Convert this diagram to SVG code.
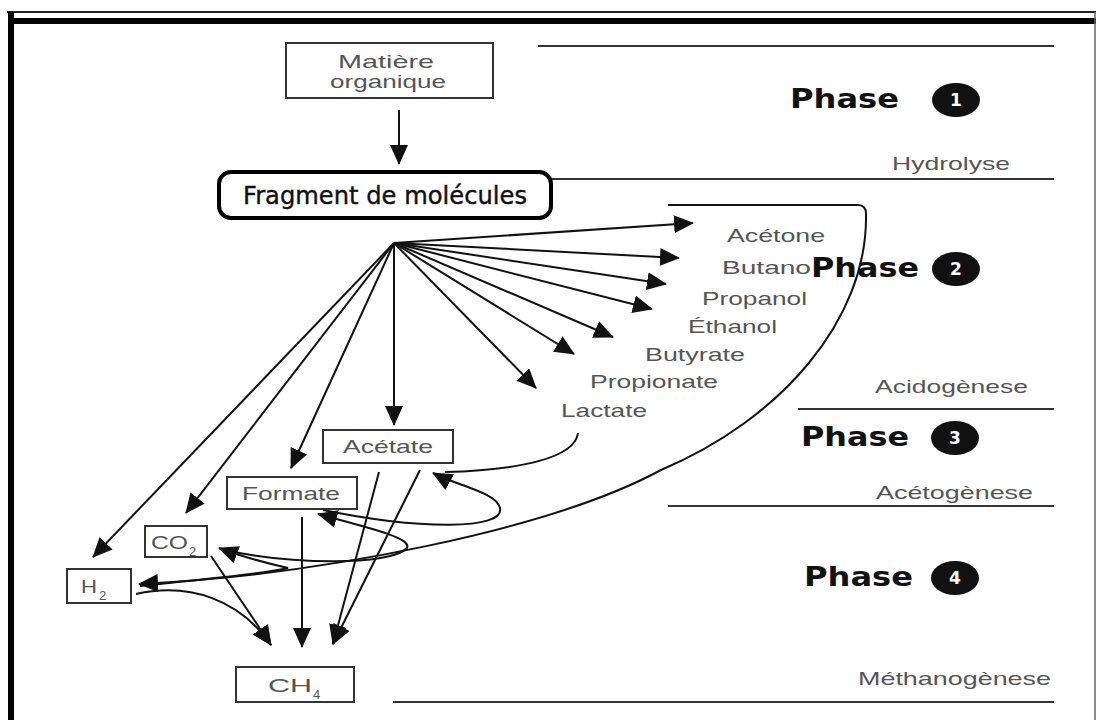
<svg xmlns="http://www.w3.org/2000/svg" width="1098" height="720" viewBox="0 0 1098 720">
<defs>
<marker id="ah" viewBox="0 0 20 18" refX="19" refY="9" markerWidth="20" markerHeight="18" markerUnits="userSpaceOnUse" orient="auto"><path d="M0,0 L20,9 L0,18 z" fill="#111"/></marker>
<style>
.lbl{font-family:"Liberation Sans",Arial,sans-serif;font-size:19px;fill:#555}
.sub{font-family:"Liberation Sans",Arial,sans-serif;font-size:13px;fill:#555}
.ph{font-family:"DejaVu Sans",Verdana,sans-serif;font-size:27px;font-weight:bold;fill:#111}
.num{font-family:"DejaVu Sans",Verdana,sans-serif;font-size:17px;font-weight:bold;fill:#fff;text-anchor:middle}
.box{fill:#fff;stroke:#333;stroke-width:2}
.sep{stroke:#333;stroke-width:2;fill:none}
.con{stroke:#111;stroke-width:2;fill:none}
.arr{stroke:#111;stroke-width:2;fill:none;marker-end:url(#ah)}
</style>
</defs>
<rect width="1098" height="720" fill="#fff"/>
<g id="frame">
<line x1="7" y1="12" x2="1096" y2="12" stroke="#222" stroke-width="2"/>
<line x1="8" y1="21" x2="1096" y2="21" stroke="#000" stroke-width="6"/>
<line x1="11" y1="12" x2="11" y2="720" stroke="#000" stroke-width="6"/>
<line x1="1095" y1="12" x2="1095" y2="720" stroke="#666" stroke-width="1.5"/>
</g>
<g id="phases">
<line class="sep" x1="538" y1="46" x2="1054" y2="46"/>
<line class="sep" x1="550" y1="179" x2="1054" y2="179"/>
<line class="sep" x1="798" y1="409" x2="1054" y2="409"/>
<line class="sep" x1="668" y1="506" x2="1054" y2="506"/>
<line class="sep" x1="393" y1="702" x2="1054" y2="702"/>
<text class="lbl" x="892" y="170" textLength="118" lengthAdjust="spacingAndGlyphs">Hydrolyse</text>
<text class="lbl" x="875" y="393" textLength="153" lengthAdjust="spacingAndGlyphs">Acidogènese</text>
<text class="lbl" x="876" y="499" textLength="157" lengthAdjust="spacingAndGlyphs">Acétogènese</text>
<text class="lbl" x="858" y="685" textLength="193" lengthAdjust="spacingAndGlyphs">Méthanogènese</text>
</g>
<g id="phase1">
<text class="ph" x="790" y="108" textLength="109" lengthAdjust="spacingAndGlyphs">Phase</text>
<ellipse cx="956" cy="100" rx="24" ry="17" fill="#111"/>
<text class="num" x="956" y="106">1</text>
</g>
<g id="phase2">
<text class="ph" x="811" y="277" textLength="108" lengthAdjust="spacingAndGlyphs">Phase</text>
<ellipse cx="956" cy="269" rx="24" ry="17" fill="#111"/>
<text class="num" x="956" y="275">2</text>
</g>
<g id="phase3">
<text class="ph" x="801" y="446" textLength="108" lengthAdjust="spacingAndGlyphs">Phase</text>
<ellipse cx="955" cy="438" rx="24" ry="17" fill="#111"/>
<text class="num" x="955" y="444">3</text>
</g>
<g id="phase4">
<text class="ph" x="804" y="586" textLength="109" lengthAdjust="spacingAndGlyphs">Phase</text>
<ellipse cx="955" cy="578" rx="24" ry="17" fill="#111"/>
<text class="num" x="955" y="584">4</text>
</g>
<g id="matiere">
<rect class="box" x="286" y="43" width="207" height="55"/>
<text class="lbl" x="338" y="68" textLength="96" lengthAdjust="spacingAndGlyphs">Matière</text>
<text class="lbl" x="330" y="88" textLength="116" lengthAdjust="spacingAndGlyphs">organique</text>
</g>
<g id="fragment">
<rect x="219" y="172" width="332" height="46" rx="12" fill="#fff" stroke="#000" stroke-width="4"/>
<text x="243" y="204" font-family="DejaVu Sans, Verdana, sans-serif" font-size="24" fill="#111" stroke="#111" stroke-width="0.4" textLength="284" lengthAdjust="spacingAndGlyphs">Fragment de molécules</text>
</g>
<g id="products">
<text class="lbl" x="727" y="242" textLength="98" lengthAdjust="spacingAndGlyphs">Acétone</text>
<text class="lbl" x="722" y="274" textLength="89" lengthAdjust="spacingAndGlyphs">Butano</text>
<text class="lbl" x="702" y="305" textLength="105" lengthAdjust="spacingAndGlyphs">Propanol</text>
<text class="lbl" x="688" y="333" textLength="89" lengthAdjust="spacingAndGlyphs">Éthanol</text>
<text class="lbl" x="645" y="361" textLength="100" lengthAdjust="spacingAndGlyphs">Butyrate</text>
<text class="lbl" x="590" y="388" textLength="128" lengthAdjust="spacingAndGlyphs">Propionate</text>
<text class="lbl" x="561" y="417" textLength="86" lengthAdjust="spacingAndGlyphs">Lactate</text>
</g>
<g id="acetate">
<rect class="box" x="323" y="430" width="130" height="33"/>
<text class="lbl" x="343" y="453" textLength="90" lengthAdjust="spacingAndGlyphs">Acétate</text>
</g>
<g id="formate">
<rect class="box" x="227" y="477" width="130" height="32"/>
<text class="lbl" x="242" y="500" textLength="98" lengthAdjust="spacingAndGlyphs">Formate</text>
</g>
<g id="co2">
<rect class="box" x="145" y="526" width="62" height="31"/>
<text class="lbl" x="151" y="549" textLength="37" lengthAdjust="spacingAndGlyphs">CO</text><text class="sub" x="189" y="556">2</text>
</g>
<g id="h2">
<rect class="box" x="67" y="569" width="64" height="34"/>
<text class="lbl" x="81" y="593" textLength="16" lengthAdjust="spacingAndGlyphs">H</text><text class="sub" x="99" y="600">2</text>
</g>
<g id="ch4">
<rect class="box" x="236" y="667" width="118" height="35"/>
<text class="lbl" x="268" y="692" textLength="44" lengthAdjust="spacingAndGlyphs">CH</text><text class="sub" x="313" y="699">4</text>
</g>
<g id="connectors">
<line class="arr" x1="399" y1="110" x2="399" y2="164"/>
<line class="arr" x1="394" y1="243" x2="693" y2="223"/>
<line class="arr" x1="394" y1="243" x2="679" y2="258"/>
<line class="arr" x1="394" y1="243" x2="666" y2="284"/>
<line class="arr" x1="394" y1="243" x2="652" y2="309"/>
<line class="arr" x1="394" y1="243" x2="613" y2="337"/>
<line class="arr" x1="394" y1="243" x2="574" y2="354"/>
<line class="arr" x1="394" y1="243" x2="536" y2="388"/>
<line class="arr" x1="394" y1="243" x2="394" y2="425"/>
<line class="arr" x1="394" y1="243" x2="291" y2="468"/>
<line class="arr" x1="394" y1="243" x2="186" y2="513"/>
<line class="arr" x1="394" y1="243" x2="93" y2="557"/>
<path class="arr" d="M668,205 L858,205 Q866,205 866,214 C868,320 780,420 661,470 C550,530 320,575 139,584"/>
<path class="con" d="M578,433 C575,458 520,470 445,472"/>
<path class="arr" d="M323,510 C420,530 505,530 500,508 C496,492 455,485 433,473"/>
<path class="arr" d="M220,549 C290,565 390,566 407,548 C412,538 370,528 318,514"/>
<path class="arr" d="M140,586 C200,579 260,575 288,568 C262,562 240,556 219,548"/>
<line class="arr" x1="379" y1="472" x2="333" y2="644"/>
<line class="arr" x1="420" y1="470" x2="333" y2="644"/>
<line class="arr" x1="302" y1="517" x2="302" y2="647"/>
<line class="arr" x1="211" y1="556" x2="271" y2="645"/>
<path class="arr" d="M136,594 C190,582 240,600 271,645"/>
</g>
</svg>
